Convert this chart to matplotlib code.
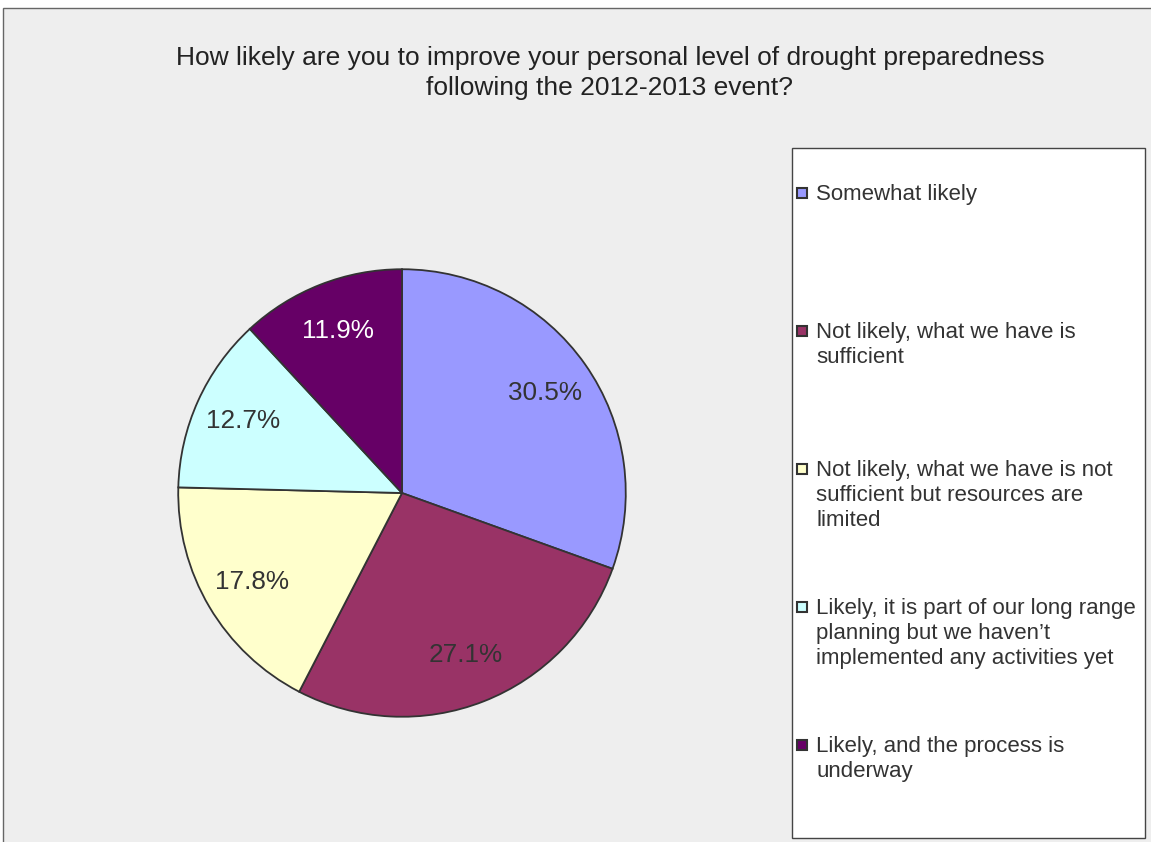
import matplotlib.pyplot as plt
from matplotlib.patches import Rectangle

# Data
labels = [
    "Somewhat likely",
    "Not likely, what we have is\nsufficient",
    "Not likely, what we have is not\nsufficient but resources are\nlimited",
    "Likely, it is part of our long range\nplanning but we haven\u2019t\nimplemented any activities yet",
    "Likely, and the process is\nunderway",
]
values = [30.5, 27.1, 17.8, 12.7, 11.9]
colors = ["#9999FF", "#993366", "#FFFFCC", "#CCFFFF", "#660066"]
label_colors = ["#333333", "#333333", "#333333", "#333333", "#FFFFFF"]

title = ("How likely are you to improve your personal level of drought preparedness\n"
         "following the 2012-2013 event?")

W, H = 1151, 842
plt.rcParams["font.family"] = ["Liberation Sans", "DejaVu Sans"]
fig = plt.figure(figsize=(W / 100, H / 100), dpi=100)
fig.patch.set_facecolor("white")

# chart area background with border
bg = Rectangle((3 / W, -0.1), 1.2, (H - 8) / H + 0.1, transform=fig.transFigure,
               facecolor="#EEEEEE", edgecolor="#666666", linewidth=1.0, zorder=-10)
fig.patches.append(bg)

fig.text(610 / W, 1 - 73 / H, title, ha="center", va="center", fontsize=19,
         color="#222222", linespacing=1.32)

# pie
cx, cy, r = 402, 493, 226
ax = fig.add_axes([(cx - r) / W, (H - cy - r) / H, 2 * r / W, 2 * r / H])
wedges, texts, autotexts = ax.pie(
    values, colors=colors, startangle=90, counterclock=False,
    autopct="%.1f%%", pctdistance=0.78,
    wedgeprops=dict(edgecolor="#333333", linewidth=1.3),
    textprops=dict(fontsize=18.8),
)
for t, c in zip(autotexts, label_colors):
    t.set_color(c)
ax.set_xlim(-1.01, 1.01)
ax.set_ylim(-1.01, 1.01)
ax.set_aspect("equal")
ax.axis("off")

# legend box
lx0, ly0, lx1, ly1 = 792, 148, 1145, 838
box = Rectangle((lx0 / W, 1 - ly1 / H), (lx1 - lx0) / W, (ly1 - ly0) / H,
                transform=fig.transFigure, facecolor="white", edgecolor="#444444",
                linewidth=1.0)
fig.patches.append(box)

first_y, step = 192, 138
for i, (lab, col) in enumerate(zip(labels, colors)):
    y = first_y + i * step
    sq = Rectangle((797 / W, 1 - (y + 6) / H), 10 / W, 10 / H,
                   transform=fig.transFigure, facecolor=col, edgecolor="#333333",
                   linewidth=1.5)
    fig.patches.append(sq)
    fig.text(816 / W, 1 - (y - 8) / H, lab, ha="left", va="top", fontsize=16,
             color="#333333", linespacing=1.24)

fig.savefig("out.png", dpi=100, facecolor=fig.get_facecolor())
